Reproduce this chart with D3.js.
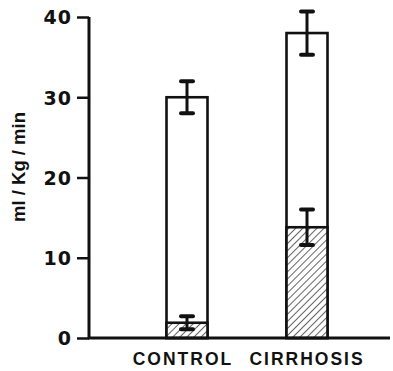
<!DOCTYPE html>
<html><head><meta charset="utf-8">
<script src="https://cdn.jsdelivr.net/npm/d3@7"></script>
<style>body{margin:0;background:#fff}svg{display:block}</style>
</head><body>
<svg id="c" width="393" height="371"></svg>
<script>
const categories = ["CONTROL", "CIRRHOSIS"];
const totalValues = [30.0, 38.0];
const totalErrors = [2.0, 2.7];
const hatchedValues = [1.9, 13.8];
const hatchedErrors = [0.8, 2.2];
const yTicks = [0, 10, 20, 30, 40];

const svg = d3.select("#c");
const y = d3.scaleLinear().domain([0, 40]).range([338, 17]);
const x = d3.scalePoint().domain(categories).range([187, 307]);
const barW = 41;
const axisX = 89;

const defs = svg.append("defs");
const pat = defs.append("pattern").attr("id", "hatch").attr("patternUnits", "userSpaceOnUse")
  .attr("width", 5).attr("height", 5).attr("patternTransform", "rotate(45)");
pat.append("rect").attr("width", 5).attr("height", 5).attr("fill", "#fff");
pat.append("line").attr("x1", 0).attr("y1", 0).attr("x2", 0).attr("y2", 5)
  .attr("stroke", "#111").attr("stroke-width", 1.3);

// bars
categories.forEach((c, i) => {
  svg.append("rect").attr("x", x(c) - barW / 2).attr("y", y(totalValues[i]))
    .attr("width", barW).attr("height", y(0) - y(totalValues[i]))
    .attr("fill", "#fff").attr("stroke", "#111").attr("stroke-width", 2.6);
  svg.append("rect").attr("x", x(c) - barW / 2).attr("y", y(hatchedValues[i]))
    .attr("width", barW).attr("height", y(0) - y(hatchedValues[i]))
    .attr("fill", "url(#hatch)").attr("stroke", "#111").attr("stroke-width", 2.6);
});

function errBar(cx, v, e) {
  const g = svg.append("g").attr("stroke", "#111").attr("stroke-linecap", "round");
  g.append("line").attr("x1", cx).attr("x2", cx).attr("y1", y(v + e)).attr("y2", y(v - e)).attr("stroke-width", 3);
  [v + e, v - e].forEach(val => {
    g.append("line").attr("x1", cx - 6).attr("x2", cx + 6).attr("y1", y(val)).attr("y2", y(val)).attr("stroke-width", 4);
  });
}
categories.forEach((c, i) => {
  errBar(x(c), totalValues[i], totalErrors[i]);
  errBar(x(c), hatchedValues[i], hatchedErrors[i]);
});

// axes
const yAxis = d3.axisLeft(y).tickValues(yTicks).tickSize(12).tickPadding(5).tickFormat(d3.format("d"));
const ga = svg.append("g").attr("transform", `translate(${axisX},0)`).call(yAxis);
ga.select(".domain").attr("stroke", "#111").attr("stroke-width", 3).attr("d", `M0,${y(40)}V${y(0)}`);
ga.selectAll(".tick line").attr("stroke", "#111").attr("stroke-width", 2.5);
ga.selectAll(".tick text").attr("font-family", "DejaVu Sans, sans-serif")
  .attr("font-weight", "bold").attr("font-size", 19).attr("fill", "#111")
  .attr("letter-spacing", "1px").attr("dy", "0.36em");

svg.append("line").attr("x1", axisX - 1).attr("x2", 390).attr("y1", y(0)).attr("y2", y(0))
  .attr("stroke", "#111").attr("stroke-width", 3);

// x labels
svg.selectAll(".xl").data(categories).enter().append("text")
  .attr("x", (d, i) => x(d) - (i === 0 ? 4 : 0)).attr("y", 365)
  .attr("text-anchor", "middle").attr("font-family", "Liberation Sans, Arial, sans-serif")
  .attr("font-weight", "bold").attr("font-size", 17.5).attr("letter-spacing", "2px").attr("fill", "#111")
  .text(d => d);

// y label
svg.append("text").attr("transform", "translate(25,167) rotate(-90)")
  .attr("text-anchor", "middle").attr("font-family", "Liberation Sans, Arial, sans-serif")
  .attr("font-weight", "bold").attr("font-size", 18.5).attr("fill", "#111")
  .text("ml / Kg / min");
</script>
</body></html>
